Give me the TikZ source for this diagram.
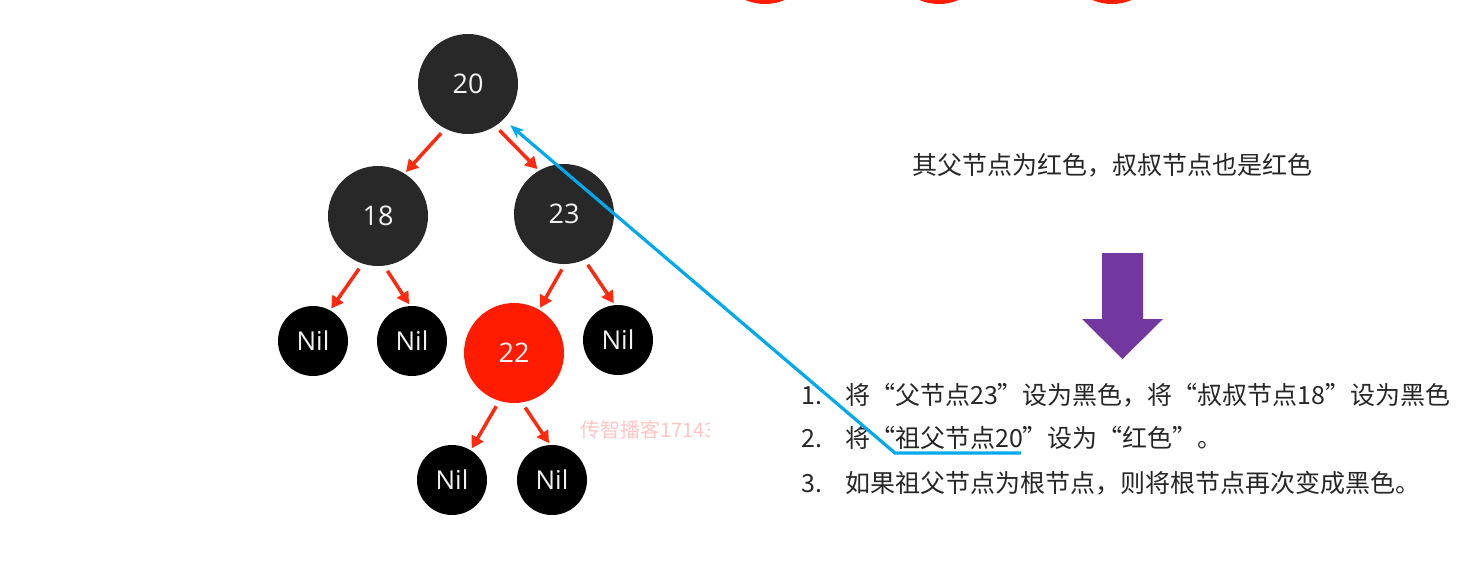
\documentclass[tikz,border=0pt]{standalone}
\usepackage{fontspec}
\usetikzlibrary{arrows.meta,calc}
\newfontfamily\cjk{Noto Sans CJK SC}
\newfontfamily\lblfont{Open Sans}
\definecolor{nodegray}{HTML}{282828}
\definecolor{nodered}{HTML}{FF1C00}
\definecolor{arrred}{HTML}{FF2A10}
\definecolor{linkblue}{HTML}{00A8EC}
\definecolor{bigpurple}{HTML}{7238A0}
\definecolor{txtgray}{HTML}{262626}
\definecolor{wmpink}{HTML}{FFC4C4}
\tikzset{
  bignode/.style={circle, fill=nodegray, minimum size=100pt, inner sep=0pt,
    text=white!95!black, font=\lblfont\fontsize{27}{27}\selectfont},
  rednode/.style={bignode, fill=nodered},
  nilnode/.style={circle, fill=black, minimum size=70pt, inner sep=0pt,
    text=white!95!black, font=\lblfont\fontsize{26}{26}\selectfont},
  treearrow/.style={draw=arrred, line width=3.5pt,
    -{Triangle[length=12pt,width=13pt]}, shorten <=6pt, shorten >=2pt},
  bluelink/.style={draw=linkblue, line width=3.2pt,
    -{Stealth[length=14pt,width=11pt]}},
  cjktext/.style={text=txtgray, font=\cjk\fontsize{25}{25}\selectfont, inner sep=0pt},
}
\begin{document}
\begin{tikzpicture}[x=1pt,y=-1pt]
\useasboundingbox (0,0) rectangle (1460,560);
% partial circles at the top edge
\fill[nodered] (765,-46) circle (50pt);
\fill[nodered] (939,-46) circle (50pt);
\fill[nodered] (1112,-46) circle (50pt);
% tree
\node[bignode] (n20) at (468,84) {20};
\node[bignode] (n18) at (378,216) {18};
\node[bignode] (n23) at (564,214) {23};
\node[nilnode] (nil1) at (313,341) {Nil};
\node[nilnode] (nil2) at (412,341) {Nil};
\node[rednode] (n22) at (514,353) {22};
\node[nilnode] (nil3) at (618,340) {Nil};
\node[nilnode] (nil4) at (452,480) {Nil};
\node[nilnode] (nil5) at (552,480) {Nil};
\draw[treearrow] (n20.243) -- (n18.58);
\draw[treearrow] (n20.303) -- (n23.120);
\draw[treearrow] (n18.252) -- (nil1.61);
\draw[treearrow] (n18.277) -- (nil2.93);
\draw[treearrow] (n23.271) -- (n22.60);
\draw[treearrow] (n23.294) -- (nil3.95);
\draw[treearrow] (n22.253) -- (nil4.58);
\draw[treearrow] (n22.279) -- (nil5.93);
% watermark
\begin{scope}
\clip (570,405) rectangle (709,455);
\node[anchor=base west, inner sep=0pt, text=wmpink, font=\cjk\fontsize{20}{20}\selectfont] (wm) at (580,437) {传智播客17143};
\end{scope}
% title
\node[cjktext, anchor=base] (title) at (1112.5,174.5) {其父节点为红色，叔叔节点也是红色};
% purple arrow
\fill[bigpurple] (1102,253) -- (1143,253) -- (1143,319) -- (1163,319) -- (1122.5,359) -- (1082,319) -- (1102,319) -- cycle;
% list
\node[cjktext, anchor=base west] (num1) at (801,404) {1.};
\node[cjktext, anchor=base west] (item1) at (845,404) {将“父节点23”设为黑色，将“叔叔节点18”设为黑色};
\node[cjktext, anchor=base west] (num2) at (801,447) {2.};
\node[cjktext, anchor=base west] (item2) at (845,447) {将“祖父节点20”设为“红色”。};
\node[cjktext, anchor=base west] (num3) at (801,492) {3.};
\node[cjktext, anchor=base west] (item3) at (845,492) {如果祖父节点为根节点，则将根节点再次变成黑色。};
% blue annotation line
\coordinate (u1) at (1021,453);
\coordinate (u2) at (895,453);
\draw[bluelink] (u1) -- (u2) -- ($(n20.center)+(315.7:59pt)$);
\end{tikzpicture}
\end{document}
